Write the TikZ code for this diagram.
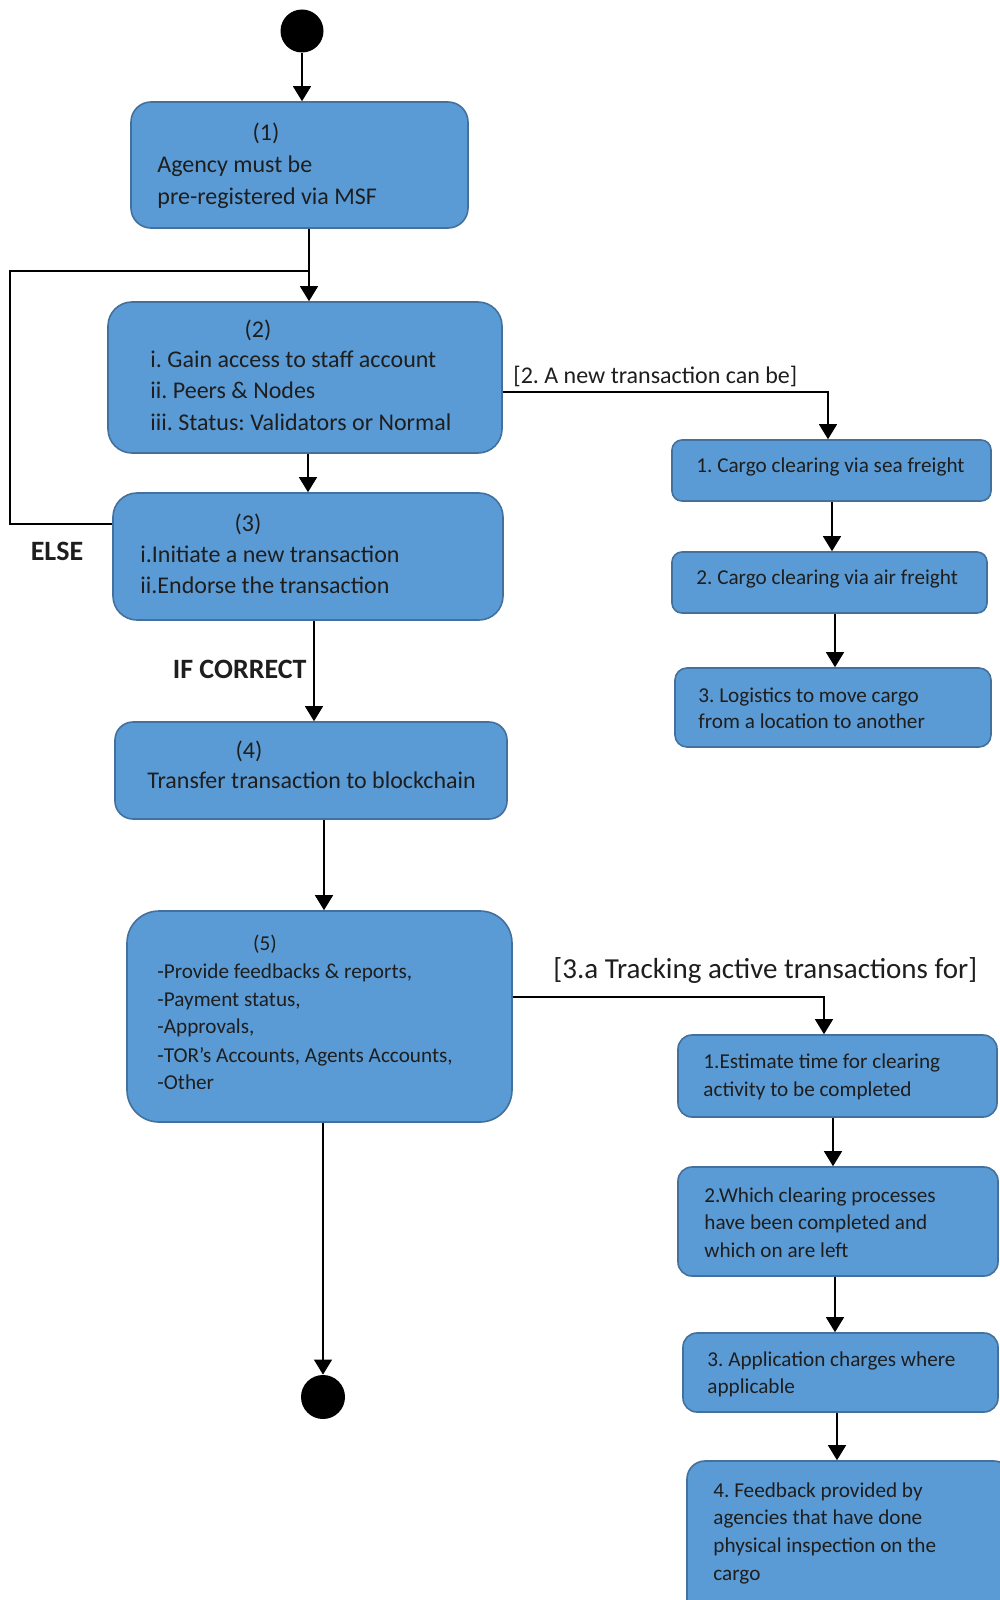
\documentclass[tikz,border=0pt]{standalone}
\usepackage{fontspec}
\setmainfont{Carlito}
\usetikzlibrary{arrows.meta,fit}
\definecolor{boxfill}{HTML}{5B9BD5}
\definecolor{boxline}{HTML}{41719C}
\definecolor{ink}{HTML}{1E1E1E}
\frenchspacing
\tikzset{
  box/.style={draw=boxline, fill=boxfill, line width=0.8pt, inner sep=0pt, rounded corners=#1},
  box/.default=8pt,
  ln/.style={anchor=west, inner sep=0pt, text=ink, text height=1.5ex, text depth=0.25ex},
  hd/.style={anchor=center, inner sep=0pt, text=ink, text height=1.5ex, text depth=0.25ex},
  big/.style={font=\fontsize{12}{14}\selectfont},
  small/.style={font=\fontsize{10.6}{13}\selectfont},
  wire/.style={draw=black, line width=0.65pt},
  arr/.style={wire, -{Triangle[length=7.5pt,width=9pt]}},
  dot/.style={circle, fill=black, inner sep=0pt, minimum size=#1},
}
\begin{document}
\begin{tikzpicture}[x=0.5pt, y=-0.5pt]
\useasboundingbox (0,0) rectangle (1000,1600);
\clip (0,0) rectangle (1000,1600);
\fill[white] (0,0) rectangle (1000,1600);

% start and end markers
\node[dot=21.5pt] (start) at (302,31) {};
\node[dot=22pt] (end) at (323,1397) {};

% main column
\node[box=10pt, fit={(131,102) (468,228)}] (b1) {};
\node[box=12pt, fit={(108,302) (502,453)}] (b2) {};
\node[box=12pt, fit={(113,493) (503,620)}] (b3) {};
\node[box=9pt,  fit={(115,722) (507,819)}] (b4) {};
\node[box=16pt, fit={(127,911) (512,1122)}] (b5) {};

% transaction kinds
\node[box=5pt, fit={(672,440) (991,501)}] (r1) {};
\node[box=5pt, fit={(672,552) (987,613)}] (r2) {};
\node[box=6pt, fit={(675,668) (991,747)}] (r3) {};

% tracking steps
\node[box=7pt, fit={(678,1035) (997,1117)}] (t1) {};
\node[box=7pt, fit={(678,1167) (998,1276)}] (t2) {};
\node[box=7pt, fit={(683,1333) (998,1412)}] (t3) {};
\node[box=9pt, fit={(687,1461) (1012,1625)}] (t4) {};

% box texts
\node[hd,big] (h1) at (266,135) {(1)};
\node[ln,big] (b1a) at (157,167) {Agency must be};
\node[ln,big] (b1b) at (157,199) {pre-registered via MSF};

\node[hd,big] (h2) at (258,332) {(2)};
\node[ln,big] (b2a) at (150,362) {i. Gain access to staff account};
\node[ln,big] (b2b) at (150,393) {ii. Peers \& Nodes};
\node[ln,big] (b2c) at (150,425) {iii. Status: Validators or Normal};

\node[hd,big] (h3) at (248,526) {(3)};
\node[ln,big] (b3a) at (140,557) {i.Initiate a new transaction};
\node[ln,big] (b3b) at (140,588) {ii.Endorse the transaction};

\node[hd,big] (h4) at (249,753) {(4)};
\node[ln,big] (b4a) at (147,783) {Transfer transaction to blockchain};

\node[hd,small] (h5) at (265,945) {(5)};
\node[ln,small] (b5a) at (157,973) {-Provide feedbacks \& reports,};
\node[ln,small] (b5b) at (157,1001) {-Payment status,};
\node[ln,small] (b5c) at (157,1028) {-Approvals,};
\node[ln,small] (b5d) at (157,1057) {-TOR’s Accounts, Agents Accounts,};
\node[ln,small] (b5e) at (157,1084) {-Other};

\node[ln,small] (r1a) at (696,467) {1. Cargo clearing via sea freight};
\node[ln,small] (r2a) at (696,579) {2. Cargo clearing via air freight};
\node[ln,small] (r3a) at (698,697) {3. Logistics to move cargo};
\node[ln,small] (r3b) at (698,723) {from a location to another};

\node[ln,small] (t1a) at (703,1063) {1.Estimate time for clearing};
\node[ln,small] (t1b) at (703,1091) {activity to be completed};
\node[ln,small] (t2a) at (704,1197) {2.Which clearing processes};
\node[ln,small] (t2b) at (704,1224) {have been completed and};
\node[ln,small] (t2c) at (704,1252) {which on are left};
\node[ln,small] (t3a) at (707,1361) {3. Application charges where};
\node[ln,small] (t3b) at (707,1388) {applicable};
\node[ln,small] (t4a) at (713,1492) {4. Feedback provided by};
\node[ln,small] (t4b) at (713,1519) {agencies that have done};
\node[ln,small] (t4c) at (713,1547) {physical inspection on the};
\node[ln,small] (t4d) at (713,1575) {cargo};

% guard and branch labels
\node[ln,big] (lnew) at (513,378) {[2. A new transaction can be]};
\node[ln,font=\fontsize{14.5}{17}\selectfont] (ltrack) at (553,973) {[3.a Tracking active transactions for]};
\node[hd,font=\bfseries\fontsize{14}{16}\selectfont] (lelse) at (57,555) {ELSE};
\node[ln,anchor=east,font=\bfseries\fontsize{14}{16}\selectfont] (lcorrect) at (307,673) {IF CORRECT};

% routing points
\coordinate (j1) at (309,271);
\coordinate (e1) at (10,524);
\coordinate (c34) at (314,0);
\coordinate (c45) at (324,0);
\coordinate (k2) at (828,392);
\coordinate (k5) at (824,997);
\coordinate (cr12) at (832,0);
\coordinate (cr23) at (835,0);
\coordinate (ct12) at (833,0);
\coordinate (ct23) at (835,0);
\coordinate (ct34) at (837,0);

% connectors
\draw[arr] (start.south) -- (start.south |- b1.north);
\draw[wire] (b1.south -| j1) -- (j1);
\draw[arr] (j1) -- (b2.north -| j1);
\draw[wire] (b3.west |- e1) -- (e1) -- (e1 |- j1) -- (j1);
\draw[arr] (b2.south -| b3.north) -- (b3.north);
\draw[arr] (b3.south -| c34) -- (b4.north -| c34);
\draw[arr] (b4.south -| c45) -- (b5.north -| c45);
\draw[arr] (b5.south -| end) -- (end.north);

\draw[arr] (b2.east |- k2) -- (k2) -- (r1.north -| k2);
\draw[arr] (r1.south -| cr12) -- (r2.north -| cr12);
\draw[arr] (r2.south -| cr23) -- (r3.north -| cr23);

\draw[arr] (b5.east |- k5) -- (k5) -- (t1.north -| k5);
\draw[arr] (t1.south -| ct12) -- (t2.north -| ct12);
\draw[arr] (t2.south -| ct23) -- (t3.north -| ct23);
\draw[arr] (t3.south -| ct34) -- (t4.north -| ct34);
\end{tikzpicture}
\end{document}
